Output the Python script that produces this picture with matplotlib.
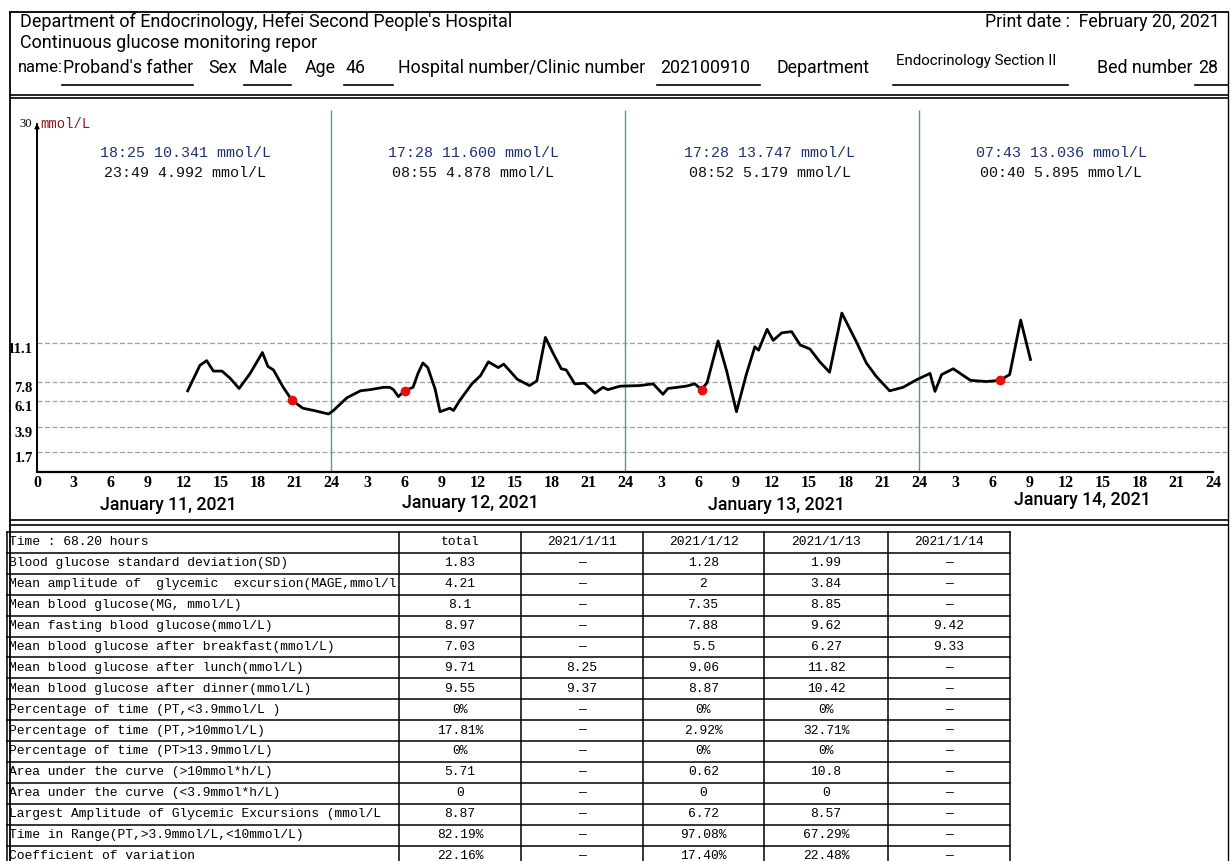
import numpy as np
import matplotlib
matplotlib.use("Agg")
import matplotlib.pyplot as plt

W, H = 1230, 861

# 血糖曲线 (小时, 从 1月11日 00:00 起算)
hours = [12.3, 13.3, 13.85, 14.4, 15.1, 15.75, 16.5, 17.4, 18.4, 18.85, 19.3, 20.1,
         20.8, 21.7, 22.6, 23.8, 24.2, 25.3, 26.4, 27.2, 28.3, 28.8, 29.1, 29.5,
         30.0, 30.7, 31.1, 31.5, 31.9, 32.5, 32.9, 33.7, 34.0, 34.5, 35.5, 36.2,
         36.85, 37.65, 38.1, 39.2, 40.2, 40.8, 41.5, 42.15, 42.8, 43.2, 43.9, 44.7,
         45.55, 46.2, 46.6, 47.6, 49.2, 50.3, 51.1, 51.5, 53.0, 53.7, 54.25, 54.7,
         55.6, 56.3, 57.1, 57.9, 58.6, 58.9, 59.6, 60.1, 60.8, 61.6, 62.3, 63.1,
         63.9, 64.7, 65.7, 66.9, 67.7, 68.5, 69.6, 70.7, 71.8, 72.9, 73.3, 73.85,
         74.8, 76.2, 77.5, 78.6, 79.4, 80.3, 81.1]
glucose = [7.0, 9.2, 9.6, 8.7, 8.7, 8.1, 7.2, 8.5, 10.3, 9.1, 8.8, 7.3,
           6.2, 5.5, 5.3, 5.0, 5.3, 6.4, 7.0, 7.1, 7.3, 7.3, 7.1, 6.5,
           7.0, 7.3, 8.5, 9.4, 9.0, 7.15, 5.2, 5.5, 5.3, 6.15, 7.6, 8.3,
           9.5, 9.0, 9.3, 8.0, 7.45, 7.85, 11.6, 10.2, 8.9, 8.8, 7.6, 7.65,
           6.8, 7.3, 7.1, 7.4, 7.45, 7.6, 6.7, 7.2, 7.4, 7.6, 7.1, 7.7,
           11.3, 8.7, 5.2, 8.4, 10.8, 10.5, 12.3, 11.35, 12.0, 12.1, 10.95, 10.6,
           9.5, 8.6, 13.7, 11.2, 9.4, 8.25, 7.0, 7.3, 7.95, 8.5, 6.95, 8.4,
           8.9, 7.9, 7.8, 7.9, 8.4, 13.1, 9.7]

# 红点 (事件标记)
event_hours = [20.8, 30.0, 54.25, 78.6]
event_vals = [6.2, 7.0, 7.1, 7.9]

ref_levels = [1.7, 3.9, 6.1, 7.8, 11.1]
day_names = ["January 11, 2021", "January 12, 2021", "January 13, 2021", "January 14, 2021"]
day_max = [("18:25", "10.341"), ("17:28", "11.600"), ("17:28", "13.747"), ("07:43", "13.036")]
day_min = [("23:49", "4.992"), ("08:55", "4.878"), ("08:52", "5.179"), ("00:40", "5.895")]

# 统计表
col_heads = ["Time : 68.20 hours", "total", "2021/1/11", "2021/1/12", "2021/1/13", "2021/1/14"]
row_labels = [
    "Blood glucose standard deviation(SD)",
    "Mean amplitude of  glycemic  excursion(MAGE,mmol/l",
    "Mean blood glucose(MG, mmol/L)",
    "Mean fasting blood glucose(mmol/L)",
    "Mean blood glucose after breakfast(mmol/L)",
    "Mean blood glucose after lunch(mmol/L)",
    "Mean blood glucose after dinner(mmol/L)",
    "Percentage of time (PT,<3.9mmol/L )",
    "Percentage of time (PT,>10mmol/L)",
    "Percentage of time (PT>13.9mmol/L)",
    "Area under the curve (>10mmol*h/L)",
    "Area under the curve (<3.9mmol*h/L)",
    "Largest Amplitude of Glycemic Excursions (mmol/L",
    "Time in Range(PT,>3.9mmol/L,<10mmol/L)",
    "Coefficient of variation",
]
D = "\u2014"
total = ["1.83", "4.21", "8.1", "8.97", "7.03", "9.71", "9.55", "0%", "17.81%", "0%",
         "5.71", "0", "8.87", "82.19%", "22.16%"]
d11 = [D, D, D, D, D, "8.25", "9.37", D, D, D, D, D, D, D, D]
d12 = ["1.28", "2", "7.35", "7.88", "5.5", "9.06", "8.87", "0%", "2.92%", "0%",
       "0.62", "0", "6.72", "97.08%", "17.40%"]
d13 = ["1.99", "3.84", "8.85", "9.62", "6.27", "11.82", "10.42", "0%", "32.71%", "0%",
       "10.8", "0", "8.57", "67.29%", "22.48%"]
d14 = [D, D, D, "9.42", "9.33", D, D, D, D, D, D, D, D, D, D]

sans = ["Liberation Sans Narrow", "Roboto", "DejaVu Sans"]
mono = ["Liberation Mono", "DejaVu Sans Mono"]
serif = ["Liberation Serif", "DejaVu Serif"]

fig = plt.figure(figsize=(W / 100, H / 100), dpi=100)
fig.patch.set_facecolor("white")

# 整页背景坐标 (像素)
bg = fig.add_axes([0, 0, 1, 1])
bg.set_xlim(0, W)
bg.set_ylim(H, 0)
bg.axis("off")

# 页面边框
bg.plot([10, 10], [12, H], color="black", lw=1.3)
bg.plot([1228, 1228], [12, H], color="black", lw=1.0)
bg.plot([10, 1228], [12, 12], color="black", lw=1.3)
for yy in (95, 98, 520, 525):
    bg.plot([10, 1228], [yy, yy], color="black", lw=1.2)

# 表头文字
bg.text(20, 22, "Department of Endocrinology, Hefei Second People's Hospital",
        family=sans, fontsize=13, va="center")
bg.text(20, 43, "Continuous glucose monitoring repor", family=sans, fontsize=13, va="center")
bg.text(1220, 22, "Print date :  February 20, 2021", family=sans, fontsize=12.8,
        va="center", ha="right")

info = [(18, "name:", 11.8), (63, "Proband's father", 12.8), (208, "Sex", 12.8),
        (248, "Male", 12.8), (305, "Age", 12.8), (345, "46", 12.8),
        (398, "Hospital number/Clinic number", 12.8), (660, "202100910", 12.8),
        (777, "Department", 12.8), (896, "Endocrinology Section II", 10.8),
        (1097, "Bed number", 12.8), (1198, "28", 12.8)]
for x, s, fs in info:
    yy = 61 if fs < 11 else 68
    bg.text(x, yy, s, family=sans, fontsize=fs, va="center")
for x0, x1 in [(62, 193), (244, 291), (344, 393), (657, 760), (893, 1068), (1195, 1228)]:
    bg.plot([x0, x1], [85, 85], color="black", lw=1.2)

# 统计表
cols = [7, 399, 521, 643, 764, 888, 1010]
top, rh = 532, 20.9
n_rows = len(row_labels) + 1
for i in range(n_rows + 1):
    yy = top + i * rh
    bg.plot([cols[0], cols[-1]], [yy, yy], color="black", lw=1.1)
for x in cols:
    bg.plot([x, x], [top, top + n_rows * rh], color="black", lw=1.1)

columns = [row_labels, total, d11, d12, d13, d14]
tfs = 9.4
for j, head in enumerate(col_heads):
    yc = top + rh / 2
    if j == 0:
        bg.text(cols[0] + 2, yc, head, family=mono, fontsize=tfs, va="center")
    else:
        bg.text((cols[j] + cols[j + 1]) / 2, yc, head, family=mono, fontsize=tfs,
                va="center", ha="center")
for i in range(len(row_labels)):
    yc = top + (i + 1.5) * rh
    for j, colvals in enumerate(columns):
        if j == 0:
            bg.text(cols[0] + 2, yc, colvals[i], family=mono, fontsize=tfs, va="center")
        else:
            bg.text((cols[j] + cols[j + 1]) / 2, yc, colvals[i], family=mono,
                    fontsize=tfs, va="center", ha="center")

# 血糖曲线图
x0, x1, y0, y1 = 37, 1213, 472, 124
ax = fig.add_axes([x0 / W, 1 - y0 / H, (x1 - x0) / W, (y0 - y1) / H])
ax.set_facecolor("none")
ax.set_xlim(0, 96)
ax.set_ylim(0, 30)
for s in ("top", "right"):
    ax.spines[s].set_visible(False)
ax.spines["left"].set_linewidth(1.4)
ax.spines["bottom"].set_linewidth(1.6)

for lv in ref_levels:
    ax.plot([0, 97.2], [lv, lv], color="#a0a0a0", lw=0.9, ls=(0, (4, 2)),
            zorder=1, clip_on=False)
ax.set_yticks(ref_levels)
ax.set_yticklabels([f"{v:.1f}" for v in ref_levels], family=serif, fontsize=10.5,
                   fontweight="bold", va="top")
ax.tick_params(axis="y", length=0, pad=3)

xt = list(range(0, 97, 3))
ax.set_xticks(xt)
ax.set_xticklabels([str(h % 24 if (h % 24 or h == 0) else 24) for h in xt],
                   family=serif, fontsize=11.5, fontweight="bold")
ax.tick_params(axis="x", length=0, pad=2)

ax.vlines([24, 48, 72], 0, 31.2, color="#4f9e96", lw=1.0, clip_on=False, zorder=1)
ax.annotate("", xy=(0, 30.3), xytext=(0, 29), xycoords="data",
            arrowprops=dict(arrowstyle="-|>", color="black", lw=1.0, mutation_scale=7),
            annotation_clip=False)
ax.text(-0.4, 30, "30", family=serif, fontsize=9, ha="right", va="center")
ax.text(0.3, 30, "mmol/L", family=mono, fontsize=10, color="#8b1a1a", va="center")

ax.plot(hours, glucose, color="black", lw=2.0, zorder=3)
ax.plot(event_hours, event_vals, "o", color="#e01010", ms=6, zorder=4)

centers = [12.1, 35.6, 59.8, 83.6]
for k in range(4):
    ax.text(centers[k], 27.5, f"{day_max[k][0]} {day_max[k][1]} mmol/L", family=mono,
            fontsize=10.8, color="#1f3270", ha="center", va="center")
    ax.text(centers[k], 25.8, f"{day_min[k][0]} {day_min[k][1]} mmol/L", family=mono,
            fontsize=10.8, color="#111111", ha="center", va="center")

date_x = [168, 470, 776, 1082]
date_y = [505, 503, 505, 500]
for k in range(4):
    bg.text(date_x[k], date_y[k], day_names[k], family=sans, fontsize=12.8,
            fontweight="medium", ha="center", va="center")

fig.savefig("out.png", dpi=100)
